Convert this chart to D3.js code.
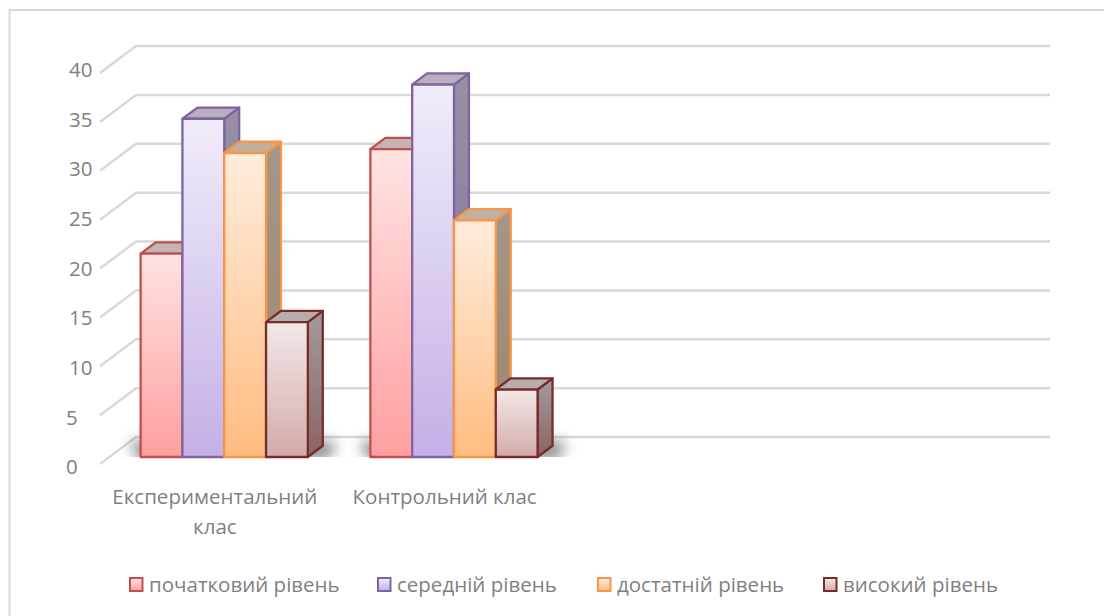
<!DOCTYPE html>
<html>
<head>
<meta charset="utf-8">
<script src="https://cdnjs.cloudflare.com/ajax/libs/d3/7.8.5/d3.min.js"></script>
<style>
  html, body { margin: 0; padding: 0; background: #fff; }
  text { font-family: "Open Sans", sans-serif; fill: #7f7f7f; }
</style>
</head>
<body>
<script>
var categories = ['Експериментальний клас', 'Контрольний клас', '', ''];
var seriesNames = ['початковий рівень', 'середній рівень', 'достатній рівень', 'високий рівень'];
var seriesValues = [
  [20.8, 31.5],
  [34.6, 38.1],
  [31.1, 24.2],
  [13.8, 6.9]
];
var yTicks = [0, 5, 10, 15, 20, 25, 30, 35, 40];

var strokes = ['#c0504d', '#8064a2', '#f79646', '#772c2a'];
var faceTop = ['#ffe3e3', '#f1ecfa', '#ffecdc', '#f3e8e8'];
var faceBottom = ['#ff9f9f', '#c4b0e6', '#ffbc80', '#d3aaaa'];
var sideTop = ['#a89b9b', '#9791a3', '#a3978a', '#a39b9b'];
var sideBottom = ['#8f6a6a', '#7d6f9a', '#a08468', '#8a6464'];
var topFill = ['#c4b4b3', '#b7afbd', '#bfb0a2', '#b9acac'];

var width = 1104;
var height = 616;
var fontSize = 20.5;

var svg = d3.select('body')
  .append('svg')
  .attr('width', width)
  .attr('height', height);

var defs = svg.append('defs');

function gradient(id, stops) {
  var g = defs.append('linearGradient')
    .attr('id', id)
    .attr('x1', 0).attr('y1', 0)
    .attr('x2', 0).attr('y2', 1);
  stops.forEach(function(s) {
    g.append('stop').attr('offset', s[0]).attr('stop-color', s[1]);
  });
}

seriesNames.forEach(function(d, i) {
  gradient('face' + i, [[0, faceTop[i]], [1, faceBottom[i]]]);
  gradient('side' + i, [[0, sideTop[i]], [1, sideBottom[i]]]);
});
defs.append('filter').attr('id', 'soft')
  .append('feGaussianBlur').attr('stdDeviation', 0.6);
defs.append('filter').attr('id', 'shadowBlur')
  .attr('x', '-20%').attr('y', '-100%').attr('width', '140%').attr('height', '300%')
  .append('feGaussianBlur').attr('stdDeviation', 7);

// front plane of the box, depth is added by project()
var x = d3.scaleBand().domain(d3.range(categories.length)).range([100, 1019]);
var y = d3.scaleLinear().domain([0, 40]).range([464, 73]);
var labelY = d3.scaleLinear().domain([0, 40]).range([467, 70]);
var gridRight = 1014;
var depthX = 36;
var depthY = 27;

function project(px, value, z) {
  return [px + z * depthX, y(value) - z * depthY];
}

var barWidth = 41.8;
var zFront = 0.26;
var zBack = 0.675;

defs.append('clipPath').attr('id', 'floorClip')
  .append('rect')
  .attr('x', 0).attr('y', 0)
  .attr('width', width)
  .attr('height', y(0) - zFront * depthY);

// chart frame, only top and left survive in the picture
svg.append('path')
  .attr('d', 'M9.5,616V10H1104')
  .attr('fill', 'none')
  .attr('stroke', '#d9d9d9')
  .attr('stroke-width', 2);

// gridlines on walls
var grid = svg.append('g')
  .attr('fill', 'none')
  .attr('stroke', '#d9d9d9')
  .attr('stroke-width', 2.5)
  .attr('filter', 'url(#soft)');

grid.selectAll('path')
  .data(yTicks)
  .enter()
  .append('path')
  .attr('d', function(d) {
    return d3.line()([
      project(x.range()[0], d, 0),
      project(x.range()[0], d, 1),
      project(gridRight, d, 1)
    ]);
  });

// y labels
svg.selectAll('.ytick')
  .data(yTicks)
  .enter()
  .append('text')
  .attr('class', 'ytick')
  .attr('x', function(d) { return d < 10 ? 66 : 69; })
  .attr('y', function(d) { return labelY(d); })
  .attr('dy', '0.35em')
  .attr('font-size', fontSize)
  .text(function(d) { return d; });

// floor shadow under each group
var shadows = svg.append('g').attr('clip-path', 'url(#floorClip)');
categories.forEach(function(c, ci) {
  if (!c) return;
  var x0 = x(ci) + x.bandwidth() / 2 - 2 * barWidth;
  var a = project(x0, 0, zFront);
  var r = a[0] + 4 * barWidth;
  shadows.append('path')
    .attr('d', d3.line()([
      [a[0] - 10, a[1] - 16],
      [r + 28, a[1] - 16],
      [r + 22, a[1] + 2],
      [a[0] - 4, a[1] + 2]
    ]))
    .attr('fill', '#444')
    .attr('opacity', 0.62)
    .attr('filter', 'url(#shadowBlur)');
});

// bars, one group per series, drawn from back-left so neighbours overlap like in the picture
seriesNames.forEach(function(name, si) {
  var g = svg.append('g').attr('class', 'series');
  seriesValues[si].forEach(function(v, ci) {
    var x0 = x(ci) + x.bandwidth() / 2 - 2 * barWidth + si * barWidth;
    var x1 = x0 + barWidth;
    var fbl = project(x0, 0, zFront);
    var fbr = project(x1, 0, zFront);
    var ftl = project(x0, v, zFront);
    var ftr = project(x1, v, zFront);
    var bbr = project(x1, 0, zBack);
    var btl = project(x0, v, zBack);
    var btr = project(x1, v, zBack);

    var bar = g.append('g')
      .attr('stroke', strokes[si])
      .attr('stroke-width', 2.3)
      .attr('stroke-linejoin', 'round');

    bar.append('path')
      .attr('d', d3.line()([ftr, btr, bbr, fbr]) + 'Z')
      .attr('fill', 'url(#side' + si + ')');
    bar.append('path')
      .attr('d', d3.line()([ftl, btl, btr, ftr]) + 'Z')
      .attr('fill', topFill[si]);
    bar.append('path')
      .attr('d', d3.line()([ftl, ftr, fbr, fbl]) + 'Z')
      .attr('fill', 'url(#face' + si + ')');
  });
});

// category labels
var catLabels = svg.selectAll('.cat')
  .data(categories.filter(function(c) { return c; }))
  .enter()
  .append('text')
  .attr('class', 'cat')
  .attr('text-anchor', 'middle')
  .attr('font-size', fontSize)
  .attr('x', function(d, i) { return x(i) + x.bandwidth() / 2; })
  .attr('y', 504);

catLabels.append('tspan')
  .attr('x', function(d, i) { return x(i) + x.bandwidth() / 2; })
  .text(function(d) { return d.indexOf('Експ') === 0 ? 'Експериментальний' : d; });
catLabels.filter(function(d) { return d.indexOf('Експ') === 0; })
  .append('tspan')
  .attr('x', function() { return x(0) + x.bandwidth() / 2; })
  .attr('dy', 30)
  .text('клас');

// legend
var legendX = [129, 377, 597, 823];
var legend = svg.selectAll('.legend')
  .data(seriesNames)
  .enter()
  .append('g')
  .attr('class', 'legend')
  .attr('transform', function(d, i) { return 'translate(' + legendX[i] + ',577)'; });

legend.append('rect')
  .attr('x', 1).attr('y', 1)
  .attr('width', 12.5).attr('height', 13)
  .attr('fill', function(d, i) { return 'url(#face' + i + ')'; })
  .attr('stroke', function(d, i) { return strokes[i]; })
  .attr('stroke-width', 2);

legend.append('text')
  .attr('x', 20)
  .attr('y', 15)
  .attr('font-size', fontSize)
  .text(function(d) { return d; });
</script>
</body>
</html>
